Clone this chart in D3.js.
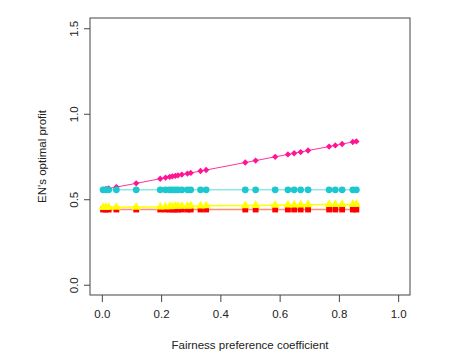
<!DOCTYPE html>
<html>
<head>
<meta charset="utf-8">
<script src="https://cdn.jsdelivr.net/npm/d3@7"></script>
<style>
  body { margin: 0; background: #fff; }
  text { font-family: "Liberation Sans", Arial, sans-serif; fill: #222; }
</style>
</head>
<body>
<script>
// fairness preference coefficient (shared by all series)
var xs = [0.004, 0.014, 0.023, 0.049, 0.116, 0.197, 0.215, 0.229, 0.238, 0.248,
  0.257, 0.270, 0.289, 0.300, 0.333, 0.352, 0.484, 0.519, 0.585, 0.628,
  0.649, 0.671, 0.696, 0.767, 0.788, 0.811, 0.847, 0.859];

var pinkVals = [0.556, 0.560, 0.563, 0.571, 0.593, 0.620, 0.626, 0.631, 0.634, 0.637,
  0.640, 0.644, 0.650, 0.654, 0.665, 0.671, 0.715, 0.726, 0.748, 0.762,
  0.769, 0.776, 0.785, 0.808, 0.815, 0.823, 0.835, 0.838];

var cyanVals = [0.555, 0.555, 0.555, 0.555, 0.555, 0.555, 0.555, 0.555, 0.555, 0.555,
  0.555, 0.555, 0.555, 0.555, 0.555, 0.555, 0.555, 0.555, 0.555, 0.555,
  0.555, 0.555, 0.555, 0.555, 0.555, 0.555, 0.555, 0.555];

var yellowVals = [0.452, 0.452, 0.453, 0.453, 0.454, 0.455, 0.456, 0.457, 0.458, 0.459,
  0.459, 0.460, 0.460, 0.461, 0.461, 0.462, 0.463, 0.464, 0.465, 0.466,
  0.467, 0.467, 0.468, 0.469, 0.469, 0.470, 0.470, 0.471];

var redVals = [0.44, 0.44, 0.44, 0.44, 0.44, 0.44, 0.44, 0.44, 0.44, 0.44,
  0.44, 0.44, 0.44, 0.44, 0.44, 0.44, 0.44, 0.44, 0.44, 0.44,
  0.44, 0.44, 0.44, 0.44, 0.44, 0.44, 0.44, 0.44];

var xTicks = [0, 0.2, 0.4, 0.6, 0.8, 1.0];
var yTicks = [0, 0.5, 1.0, 1.5];

var width = 449, height = 359;
var box = { left: 90, right: 410, top: 18, bottom: 295 };

var svg = d3.select("body").append("svg")
  .attr("width", width)
  .attr("height", height);

var x = d3.scaleLinear().domain([-0.04, 1.04]).range([box.left, box.right]);
var y = d3.scaleLinear().domain([-0.06, 1.56]).range([box.bottom, box.top]);

// plot frame
svg.append("rect")
  .attr("x", box.left).attr("y", box.top)
  .attr("width", box.right - box.left)
  .attr("height", box.bottom - box.top)
  .attr("fill", "none")
  .attr("stroke", "#444")
  .attr("stroke-width", 1);

// R style axes
var xAxis = svg.append("g")
  .attr("transform", "translate(0," + box.bottom + ")")
  .call(d3.axisBottom(x).tickValues(xTicks).tickFormat(d3.format(".1f")).tickSize(7).tickPadding(8));
var yAxis = svg.append("g")
  .attr("transform", "translate(" + box.left + ",0)")
  .call(d3.axisLeft(y).tickValues(yTicks).tickFormat(d3.format(".1f")).tickSize(6).tickPadding(8));

[xAxis, yAxis].forEach(function (g) {
  g.select(".domain").remove();
  g.selectAll("line").attr("stroke", "#444");
  g.selectAll("text").attr("font-size", 11.5).attr("fill", "#222")
    .style("font-family", '"Liberation Sans", Arial, sans-serif');
});

yAxis.selectAll(".tick text")
  .attr("x", null).attr("dy", null)
  .attr("text-anchor", "middle")
  .attr("transform", "translate(-16,0) rotate(-90)")
  .attr("dy", "0.35em");

svg.append("text")
  .attr("x", (box.left + box.right) / 2)
  .attr("y", 349)
  .attr("text-anchor", "middle")
  .attr("font-size", 11.5)
  .text("Fairness preference coefficient");

svg.append("text")
  .attr("transform", "translate(46," + (box.top + box.bottom) / 2 + ") rotate(-90)")
  .attr("text-anchor", "middle")
  .attr("font-size", 11.5)
  .text("EN's optimal profit");

// pink uses a square turned 45 degrees, like R's pch 18
var series = [
  { vals: pinkVals, line: "#ff3399", fill: "#ff1493", sym: d3.symbolSquare, size: 20, rot: 45, lw: 1 },
  { vals: cyanVals, line: "#55dddd", fill: "#1cc8d0", sym: d3.symbolCircle, size: 36, rot: 0, lw: 1 },
  { vals: redVals, line: "#ff8c70", fill: "#ff0000", sym: d3.symbolSquare, size: 34, rot: 0, lw: 1.5 },
  { vals: yellowVals, line: "#ffff00", fill: "#ffff00", sym: d3.symbolTriangle, size: 34, rot: 0, lw: 1.5 }
];

var line = d3.line()
  .x(function (d) { return x(d[0]); })
  .y(function (d) { return y(d[1]); });

series.forEach(function (s) {
  var pts = xs.map(function (v, i) { return [v, s.vals[i]]; });
  svg.append("path")
    .datum(pts)
    .attr("d", line)
    .attr("fill", "none")
    .attr("stroke", s.line)
    .attr("stroke-width", s.lw);
  svg.append("g").selectAll("path")
    .data(pts)
    .enter()
    .append("path")
    .attr("transform", function (d) {
      return "translate(" + x(d[0]) + "," + y(d[1]) + ") rotate(" + s.rot + ")";
    })
    .attr("d", d3.symbol().type(s.sym).size(s.size))
    .attr("fill", s.fill);
});
</script>
</body>
</html>
